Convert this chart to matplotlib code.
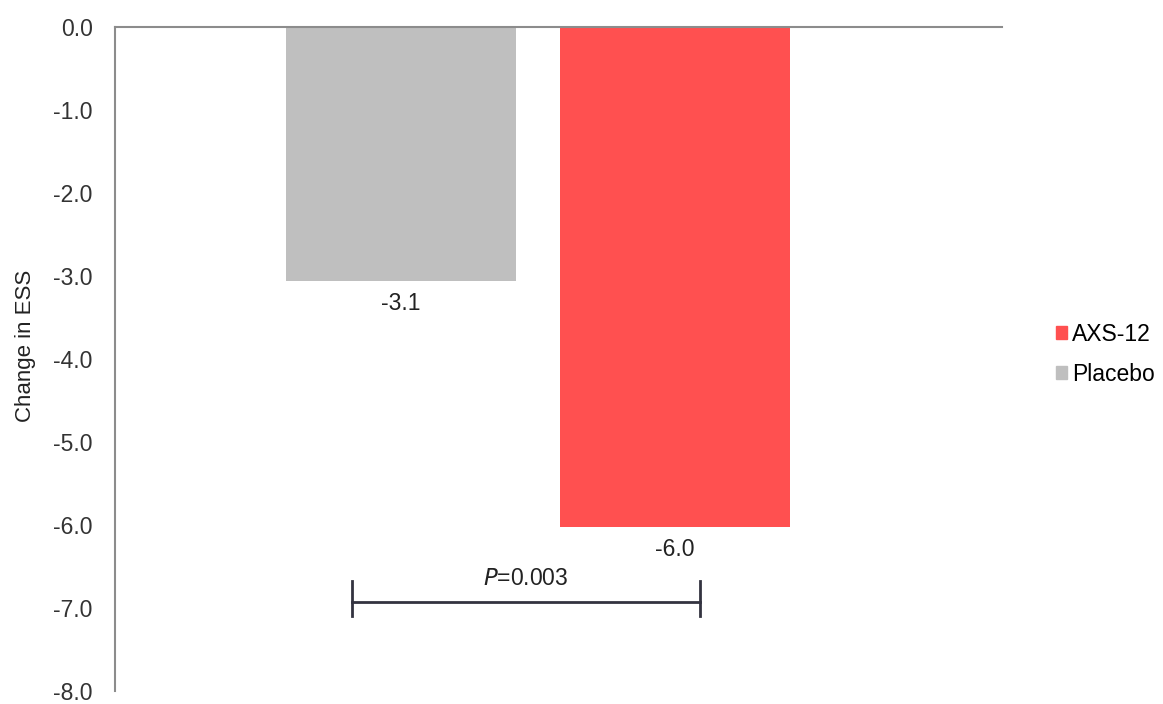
import matplotlib
matplotlib.use("Agg")
import matplotlib.pyplot as plt
from matplotlib.patches import Patch

plt.rcParams['font.family'] = ['Liberation Sans', 'DejaVu Sans']

groups = ['Placebo', 'AXS-12']
changes = [-3.06, -6.02]
labels = ['-3.1', '-6.0']
colors = ['#bfbfbf', '#ff5050']
p_text = '$\\it{P}$=0.003'

fig = plt.figure(figsize=(11.63, 7.04), dpi=100)
ax = fig.add_axes([0.0989, 0.0185, 0.7627, 0.943])

pos = [0, 1]
ax.bar(pos, changes, width=0.84, color=colors, zorder=2)

for x, v, t in zip(pos, changes, labels):
    ax.text(x, v - 0.27, t, ha='center', va='center', fontsize=16.5, color='#222222')

# significance bracket
x0, x1, yb = -0.18, 1.09, -6.93
ax.plot([x0, x1], [yb, yb], color='#333340', lw=2, zorder=3)
ax.plot([x0, x0], [-6.68, -7.1], color='#333340', lw=2, zorder=3)
ax.plot([x1, x1], [-6.68, -7.1], color='#333340', lw=2, zorder=3)
ax.text((x0 + x1) / 2, -6.65, p_text, ha='center', va='center', fontsize=16.5, color='#222222')

ax.set_xlim(-1.044, 2.193)
ax.set_ylim(-8, 0)
ax.set_yticks([0, -1, -2, -3, -4, -5, -6, -7, -8])
ax.set_yticklabels(['0.0', '-1.0', '-2.0', '-3.0', '-4.0', '-5.0', '-6.0', '-7.0', '-8.0'])
ax.tick_params(axis='y', length=0, pad=16, labelsize=16.5, labelcolor='#333333')
ax.set_xticks([])
ax.set_ylabel('Change in ESS', fontsize=16, color='#222222')
ax.yaxis.set_label_coords(-0.089, 0.52)

for s in ['right', 'bottom']:
    ax.spines[s].set_visible(False)
ax.spines['left'].set_color('#8c8c8c')
ax.spines['left'].set_linewidth(1.5)
ax.spines['top'].set_color('#8c8c8c')
ax.spines['top'].set_linewidth(1.5)

handles = [Patch(color=colors[1], label='AXS-12'), Patch(color=colors[0], label='Placebo')]
fig.legend(handles=handles, loc='center left', bbox_to_anchor=(0.89, 0.497),
           frameon=False, fontsize=16.5, handlelength=0.48, handleheight=0.48,
           handletextpad=0.25, labelspacing=0.75)

fig.savefig('out.png', dpi=100)
